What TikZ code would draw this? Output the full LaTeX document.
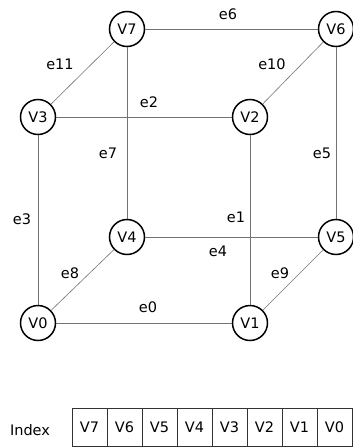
\documentclass[tikz,border=0pt]{standalone}
\usepackage{fontspec}
\setmainfont{DejaVu Sans}
\begin{document}
\begin{tikzpicture}[x=1pt,y=-1pt,
  vertex/.style={circle,draw=black,line width=1.5pt,minimum size=35pt,inner sep=0pt,font=\fontsize{14.5}{16}\selectfont},
  edge/.style={draw=black!55,line width=0.6pt},
  elabel/.style={font=\fontsize{14.5}{16}\selectfont,inner sep=0pt},
  cell/.style={draw=black!80,line width=0.8pt,minimum width=35pt,minimum height=38pt,inner sep=0pt,font=\fontsize{14.5}{16}\selectfont}]
\useasboundingbox (0,0) rectangle (353,447);
% cube vertices
\node[vertex] (v7) at (127,29) {V7};
\node[vertex] (v6) at (336,29) {V6};
\node[vertex] (v3) at (38,117) {V3};
\node[vertex] (v2) at (250,117) {V2};
\node[vertex] (v4) at (127,237) {V4};
\node[vertex] (v5) at (336,237) {V5};
\node[vertex] (v0) at (38,323) {V0};
\node[vertex] (v1) at (250,323) {V1};
% cube edges
\draw[edge] (v0) -- (v1);
\draw[edge] (v1) -- (v2);
\draw[edge] (v3) -- (v2);
\draw[edge] (v0) -- (v3);
\draw[edge] (v4) -- (v5);
\draw[edge] (v5) -- (v6);
\draw[edge] (v7) -- (v6);
\draw[edge] (v7) -- (v4);
\draw[edge] (v0) -- (v4);
\draw[edge] (v1) -- (v5);
\draw[edge] (v2) -- (v6);
\draw[edge] (v3) -- (v7);
% edge labels
\node[elabel] (e0) at (148,307) {e0};
\node[elabel] (e1) at (236,217) {e1};
\node[elabel] (e2) at (149,102) {e2};
\node[elabel] (e3) at (22,219) {e3};
\node[elabel] (e4) at (218,251) {e4};
\node[elabel] (e5) at (322,153) {e5};
\node[elabel] (e6) at (228,14) {e6};
\node[elabel] (e7) at (108,153) {e7};
\node[elabel] (e8) at (70,273) {e8};
\node[elabel] (e9) at (280,273) {e9};
\node[elabel] (e10) at (272,64) {e10};
\node[elabel] (e11) at (60,64) {e11};
% index table
\node[elabel] (idx) at (30,430) {Index};
\foreach \v [count=\i from 0] in {V7,V6,V5,V4,V3,V2,V1,V0}
  \node[cell] (c\i) at (89.5+35*\i,427) {\v};
\end{tikzpicture}
\end{document}
